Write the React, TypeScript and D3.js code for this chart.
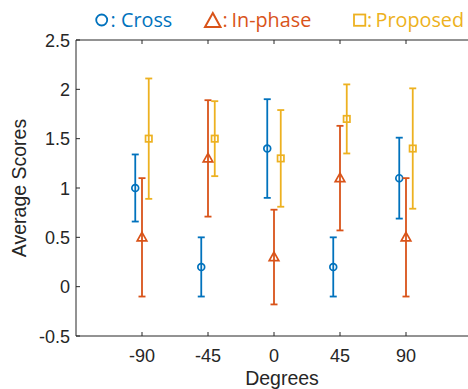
import React from "react";
import * as d3 from "d3";

const degrees = [-90, -45, 0, 45, 90];
const crossMean = [1.0, 0.2, 1.4, 0.2, 1.1];
const crossErr = [0.34, 0.3, 0.5, 0.3, 0.41];
const inphaseMean = [0.5, 1.3, 0.3, 1.1, 0.5];
const inphaseErr = [0.6, 0.59, 0.48, 0.53, 0.6];
const proposedMean = [1.5, 1.5, 1.3, 1.7, 1.4];
const proposedErr = [0.61, 0.38, 0.49, 0.35, 0.61];
const yTicks = [-0.5, 0, 0.5, 1, 1.5, 2, 2.5];
const yTickLabels = ["-0.5", "0", "0.5", "1", "1.5", "2", "2.5"];

const W = 468, H = 389;
const L = 76, R = 472, T = 40, B = 336;

const x = d3.scaleLinear().domain([-135, 135]).range([L, R]);
const y = d3.scaleLinear().domain([-0.5, 2.5]).range([B, T]);

const BLUE = "#0072BD", RED = "#D95319", YEL = "#EDB120";

type Series = { name: string; mean: number[]; err: number[]; color: string; off: number; marker: string };
const series: Series[] = [
  { name: "Cross", mean: crossMean, err: crossErr, color: BLUE, off: -4.6, marker: "circle" },
  { name: "In-phase", mean: inphaseMean, err: inphaseErr, color: RED, off: 0, marker: "triangle" },
  { name: "Proposed", mean: proposedMean, err: proposedErr, color: YEL, off: 4.6, marker: "square" },
];

function Marker({ kind, cx, cy, color }: { kind: string; cx: number; cy: number; color: string }) {
  if (kind === "circle") return <circle cx={cx} cy={cy} r={3.4} fill="none" stroke={color} strokeWidth={1.7} />;
  if (kind === "triangle") {
    return <path d={`M${cx},${cy - 5}L${cx + 4.8},${cy + 3.5}L${cx - 4.8},${cy + 3.5}Z`} fill="none" stroke={color} strokeWidth={1.7} />;
  }
  return <rect x={cx - 3.2} y={cy - 3.2} width={6.4} height={6.4} fill="none" stroke={color} strokeWidth={1.7} />;
}

export default function App() {
  const tickFont = "'Liberation Sans', Arial, sans-serif";
  const legFont = "'Open Sans', 'Noto Sans', sans-serif";
  return (
    <svg width={W} height={H} style={{ position: "absolute", left: 0, top: 0, background: "#fff" }}>
      <rect x={0} y={0} width={W} height={H} fill="#fff" />
      {series.map((s) =>
        degrees.map((d, i) => {
          const cx = x(d + s.off);
          const top = y(s.mean[i] + s.err[i]);
          const bot = y(s.mean[i] - s.err[i]);
          return (
            <g key={s.name + i} stroke={s.color} strokeWidth={1.8}>
              <line x1={cx} x2={cx} y1={top} y2={bot} />
              <line x1={cx - 3.5} x2={cx + 3.5} y1={top} y2={top} />
              <line x1={cx - 3.5} x2={cx + 3.5} y1={bot} y2={bot} />
              <Marker kind={s.marker} cx={cx} cy={y(s.mean[i])} color={s.color} />
            </g>
          );
        })
      )}
      <g stroke="#262626" strokeWidth={1} fill="none">
        <line x1={L} x2={R} y1={B} y2={B} />
        <line x1={L} x2={R} y1={T} y2={T} />
        <line x1={L} x2={L} y1={T} y2={B} />
        <line x1={R} x2={R} y1={T} y2={B} />
        {degrees.map((d) => (
          <g key={"xt" + d}>
            <line x1={x(d)} x2={x(d)} y1={B} y2={B - 4} />
            <line x1={x(d)} x2={x(d)} y1={T} y2={T + 4} />
          </g>
        ))}
        {yTicks.map((v) => (
          <g key={"yt" + v}>
            <line x1={L} x2={L + 4} y1={y(v)} y2={y(v)} />
            <line x1={R} x2={R - 4} y1={y(v)} y2={y(v)} />
          </g>
        ))}
      </g>
      <g fill="#262626" fontFamily={tickFont} fontSize={18}>
        {yTicks.map((v, i) => (
          <text key={"yl" + v} x={L - 6} y={y(v) + 6.5} textAnchor="end">{yTickLabels[i]}</text>
        ))}
        {degrees.map((d) => (
          <text key={"xl" + d} x={x(d)} y={362} textAnchor="middle">{String(d)}</text>
        ))}
      </g>
      <text x={282} y={385} textAnchor="middle" fontFamily={tickFont} fontSize={19.5} fill="#262626">Degrees</text>
      <text transform={`translate(26,${(T + B) / 2}) rotate(-90)`} textAnchor="middle" fontFamily={tickFont} fontSize={19.5} fill="#262626">Average Scores</text>
      <g fontFamily={legFont} fontSize={19.8}>
        <circle cx={101.7} cy={20} r={5.5} fill="none" stroke={BLUE} strokeWidth={1.8} />
        <text x={110.5} y={27} fill={BLUE}>:</text>
        <text x={121} y={27} fill={BLUE}>Cross</text>
        <path d="M212.8,13L220.5,27L205,27Z" fill="none" stroke={RED} strokeWidth={2} />
        <text x={222.4} y={27} fill={RED}>:</text>
        <text x={231.5} y={27} fill={RED}>In-phase</text>
        <rect x={354} y={14.5} width={11.3} height={11.3} fill="none" stroke={YEL} strokeWidth={1.8} />
        <text x={367} y={27} fill={YEL}>:</text>
        <text x={375.5} y={27} fill={YEL}>Proposed</text>
      </g>
    </svg>
  );
}
